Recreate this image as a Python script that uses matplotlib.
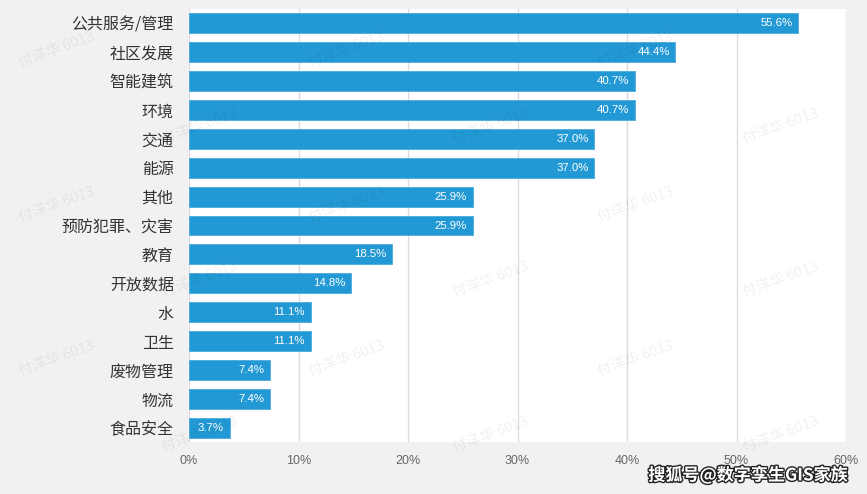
import matplotlib.pyplot as plt
import matplotlib.patheffects as pe
from matplotlib.ticker import FuncFormatter

plt.rcParams['font.family'] = ['Noto Sans CJK SC', 'DejaVu Sans']

categories = ["公共服务/管理", "社区发展", "智能建筑", "环境", "交通", "能源", "其他",
              "预防犯罪、灾害", "教育", "开放数据", "水", "卫生", "废物管理", "物流", "食品安全"]
values = [55.6, 44.4, 40.7, 40.7, 37.0, 37.0, 25.9, 25.9, 18.5, 14.8, 11.1, 11.1, 7.4, 7.4, 3.7]
xticks = [0, 10, 20, 30, 40, 50, 60]

# watermark centres in pixels (x, y from top)
wm_pos = [(57, 50), (347, 50), (636, 50),
          (200, 127), (491, 127), (781, 127),
          (57, 205), (347, 205), (636, 205),
          (200, 280), (491, 280), (781, 280),
          (57, 359), (347, 359), (636, 359),
          (200, 435), (491, 435), (781, 435)]

W, H = 867, 494
fig = plt.figure(figsize=(W / 100, H / 100), dpi=100, facecolor='#f1f1f1')
ax = fig.add_axes([189 / W, 1 - 442 / H, (846 - 189) / W, (442 - 9) / H])
ax.set_facecolor('white')

ypos = list(range(len(categories)))
ax.barh(ypos, values, height=0.69, color='#2299d4', edgecolor='#4aaade',
        linewidth=0.6, zorder=3)
for y, v in zip(ypos, values):
    ax.annotate(f"{v:.1f}%", (v, y), xytext=(-4, 0), textcoords='offset points',
                ha='right', va='center', color='white', fontsize=8.2,
                family=['Liberation Sans', 'DejaVu Sans'], zorder=4)

ax.set_xlim(0, 60)
ax.set_ylim(len(categories) - 0.52, -0.48)
ax.set_xticks(xticks)
ax.xaxis.set_major_formatter(FuncFormatter(lambda x, p: f"{x:.0f}%"))
ax.set_yticks(ypos)
ax.set_yticklabels(categories, fontsize=11.5, color='#333333')
for lab in ax.get_xticklabels():
    lab.set_family(['Liberation Sans', 'DejaVu Sans'])
ax.tick_params(axis='x', length=0, pad=9, labelsize=9, labelcolor='#666666')
ax.tick_params(axis='y', length=0, pad=11)
ax.grid(axis='x', color='#dcdcdc', linewidth=1, zorder=0)
for s in ax.spines.values():
    s.set_visible(False)

for (px, py) in wm_pos:
    fig.text(px / W, 1 - py / H, "付洋华 6013", fontsize=10.5, color='#000000', alpha=0.06,
             rotation=20, ha='center', va='center', zorder=10)

fig.text(848 / W, 1 - 475 / H, "搜狐号@数字孪生GIS家族", fontsize=12.3, fontweight='bold',
         color='white', ha='right', va='center', zorder=11,
         path_effects=[pe.withStroke(linewidth=2, foreground='#222222')])

fig.savefig('out.png', dpi=100, facecolor=fig.get_facecolor())
